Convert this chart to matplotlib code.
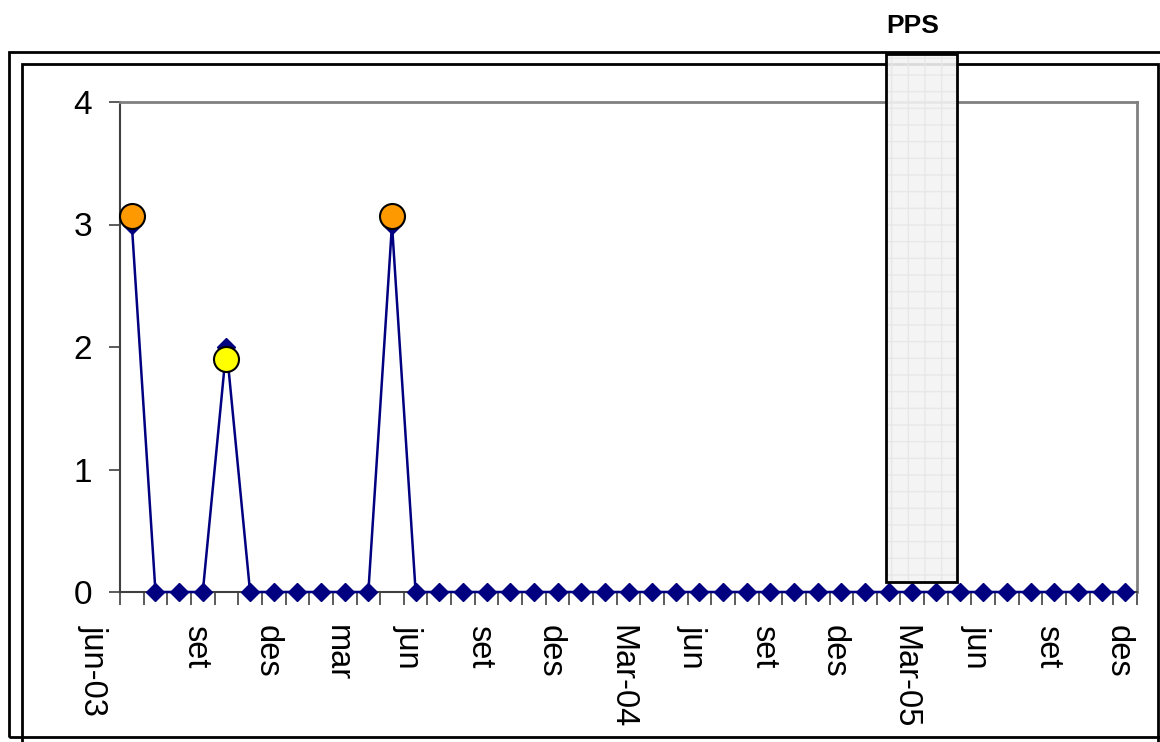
import matplotlib
matplotlib.use("Agg")
import matplotlib.pyplot as plt
import matplotlib.transforms as mtransforms
from matplotlib.patches import Rectangle
import numpy as np

plt.rcParams['font.family'] = ['Liberation Sans', 'DejaVu Sans']

# ---- data ----
values = [3, 0, 0, 0, 2, 0, 0, 0, 0, 0, 0, 3, 0, 0, 0, 0, 0, 0, 0, 0, 0, 0,
          0, 0, 0, 0, 0, 0, 0, 0, 0, 0, 0, 0, 0, 0, 0, 0, 0, 0, 0, 0, 0]
highlight_idx = [0, 11]
highlight_vals = [3.07, 3.07]
yellow_idx = [4]
yellow_vals = [1.9]
tick_labels = ["jun-03", "set", "des", "mar", "jun", "set", "des", "Mar-04",
               "jun", "set", "des", "Mar-05", "jun", "set", "des"]
label_idx = [0, 3, 6, 9, 12, 15, 18, 21, 24, 27, 30, 33, 36, 39, 42]
pps_start, pps_end = 31.9, 34.9
pps_bottom = 0.08

W, H = 1160, 742
fig = plt.figure(figsize=(W / 100, H / 100), dpi=100)

def fx(px):
    return px / W

def fy(py):
    return 1 - py / H

# frames (figure-level)
fig.add_artist(Rectangle((fx(9), fy(737)), fx(1160 - 9 + 5), fy(52) - fy(737),
                         transform=fig.transFigure, fill=False, ec='black', lw=2, zorder=-5))
fig.add_artist(Rectangle((fx(22), fy(745)), fx(1158 - 22), fy(64) - fy(745),
                         transform=fig.transFigure, fill=False, ec='black', lw=2, zorder=-5))

ax = fig.add_axes([fx(120), fy(592), fx(1137) - fx(120), fy(102) - fy(592)])
ax.set_facecolor('none')
n = len(values)
x = np.arange(n)
ax.set_xlim(-0.5, n - 0.5)
ax.set_ylim(0, 4)

ax.plot(x, values, color='#000080', lw=1.8, marker='D', ms=9.5,
        mfc='#000080', mec='#000080', zorder=3, clip_on=False)
ax.plot(highlight_idx, highlight_vals, ls='none', marker='o', ms=18,
        mfc='#FF9900', mec='black', mew=1.5, zorder=4, clip_on=False)
ax.plot(yellow_idx, yellow_vals, ls='none', marker='o', ms=18,
        mfc='#FFFF00', mec='black', mew=1.5, zorder=4, clip_on=False)

# spines
for s in ['top', 'right']:
    ax.spines[s].set_color('#808080')
    ax.spines[s].set_linewidth(2)
ax.spines['left'].set_color('#404040')
ax.spines['left'].set_linewidth(1.5)
ax.spines['bottom'].set_color('#404040')
ax.spines['bottom'].set_linewidth(1.5)

# y ticks
ax.set_yticks([0, 1, 2, 3, 4])
ax.set_yticklabels(['0', '1', '2', '3', '4'])
ax.tick_params(axis='y', direction='out', length=8, width=1.2, color='#404040',
               labelsize=24, pad=12)

# x ticks at category boundaries
ax.set_xticks(np.arange(n + 1) - 0.5)
ax.set_xticklabels([])
ax.tick_params(axis='x', direction='out', length=9, width=1.2, color='#404040')

trans = ax.get_xaxis_transform()
for i, (idx, lab) in enumerate(zip(label_idx, tick_labels)):
    xx = idx - 0.3 if i > 0 else idx - 1.64
    ax.text(xx, -0.068, lab, rotation=-90, ha='center', va='top',
            fontsize=23.5, transform=trans)

# PPS box
top_val = (592 - 54) / 122.5
ax.add_patch(Rectangle((pps_start, pps_bottom), pps_end - pps_start, top_val - pps_bottom,
                       fc='#f3f3f3', ec='#e6e6e6', lw=0, hatch='+', zorder=5,
                       clip_on=False, alpha=0.9))
ax.add_patch(Rectangle((pps_start, pps_bottom), pps_end - pps_start, top_val - pps_bottom,
                       fill=False, ec='black', lw=2, zorder=6, clip_on=False))
ax.text((pps_start + pps_end) / 2 - 0.4, fy(26), "PPS",
        transform=mtransforms.blended_transform_factory(ax.transData, fig.transFigure),
        ha='center', va='center', fontsize=19, fontweight='bold')

fig.savefig("out.png", dpi=100)
